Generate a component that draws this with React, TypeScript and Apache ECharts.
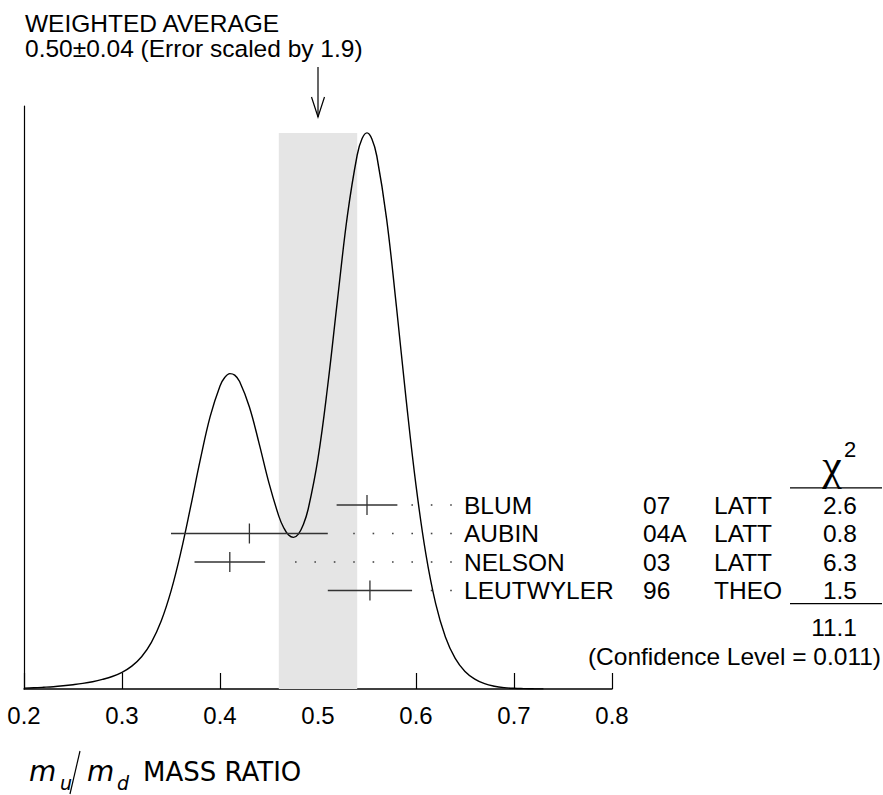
import React, { useEffect, useRef } from 'react';
import * as echarts from 'echarts';

// ---- Data ----
const curveX = [
  0.2, 0.21, 0.22, 0.23, 0.24, 0.25, 0.26, 0.27, 0.28, 0.29,
  0.3, 0.31, 0.32, 0.33, 0.34, 0.35, 0.36, 0.37, 0.38, 0.39,
  0.4, 0.405, 0.41, 0.415, 0.42, 0.43, 0.44, 0.45, 0.46, 0.465, 0.47, 0.475, 0.48, 0.485, 0.49,
  0.5, 0.51, 0.52, 0.53, 0.54, 0.545, 0.55, 0.555, 0.56, 0.57, 0.58, 0.59,
  0.6, 0.61, 0.62, 0.63, 0.64, 0.65, 0.66, 0.67, 0.68, 0.69,
  0.7, 0.71, 0.72, 0.73,
];
const curveY = [
  0.9, 1.2, 1.7, 2.3, 3.2, 4.3, 5.6, 7.3, 9.6, 12.5,
  16.7, 22.9, 32.3, 46.7, 68.0, 97.9, 136.6, 182.1, 229.8, 272.6,
  303.1, 311.7, 315.4, 313.9, 307.5, 282.0, 245.2, 205.9, 172.9, 161.3, 153.9, 151.6, 154.9, 164.3, 180.0,
  230.7, 304.0, 390.2, 473.3, 534.0, 550.5, 556.1, 550.1, 533.0, 470.1, 382.7, 288.9,
  203.6, 135.3, 85.6, 52.1, 30.7, 17.6, 9.9, 5.3, 2.8, 1.4,
  0.7, 0.4, 0.2, 0.1,
];

const names = ['BLUM', 'AUBIN', 'NELSON', 'LEUTWYLER'];
const years = ['07', '04A', '03', '96'];
const methods = ['LATT', 'LATT', 'LATT', 'THEO'];
const values = [0.55, 0.43, 0.41, 0.553];
const errors = [0.031, 0.08, 0.036, 0.043];
const chi2 = ['2.6', '0.8', '6.3', '1.5'];
const chi2Total = '11.1';
const confidenceLevel = '0.011';

const avgValue = 0.5;
const avgError = 0.04;
const errorScale = 1.9;

const xMin = 0.2;
const xMax = 0.8;
const xStep = 0.1;

// ---- Layout ----
const FONT = '"Liberation Sans", Arial, Helvetica, sans-serif';
const GRID_LEFT = 24;
const GRID_TOP = 106;
const GRID_W = 588;
const GRID_H = 583;
const ROW_GAP = 28.5;
const FIRST_ROW_OFFSET = 14; // rows start 14 row-gaps below the grid top
const LABEL_X = 464;
const YEAR_X = 643;
const METHOD_X = 714;
const CHI_RIGHT = 857;
const TABLE_LINE_X1 = 790;
const TABLE_LINE_X2 = 882;
const DOT_GAP = 19.4;
const TXT = 24.5;
const TITLE_TXT = 24.5;

function txt(x: number, y: number, text: string, align: string, size = TXT, family = FONT, extra: any = {}) {
  return {
    type: 'text',
    x,
    y,
    style: {
      text,
      fill: '#000',
      fontSize: size,
      fontFamily: family,
      align,
      verticalAlign: 'middle',
      ...extra,
    },
  };
}

export default function App() {
  const ref = useRef<HTMLDivElement>(null);

  useEffect(() => {
    const chart = echarts.init(ref.current as HTMLDivElement, null, { renderer: 'svg' });
    const bandTop = Math.max(...curveY);
    const rowMin = -FIRST_ROW_OFFSET;
    const rowMax = GRID_H / ROW_GAP - FIRST_ROW_OFFSET;
    const sub = '"DejaVu Sans", sans-serif';

    const option: any = {
      animation: false,
      backgroundColor: '#fff',
      grid: { left: GRID_LEFT, top: GRID_TOP, width: GRID_W, height: GRID_H, containLabel: false },
      xAxis: {
        type: 'value',
        min: xMin,
        max: xMax,
        interval: xStep,
        axisLine: { onZero: false, lineStyle: { color: '#000', width: 1.5 } },
        axisTick: { inside: true, length: 16, lineStyle: { color: '#000', width: 1.2 } },
        axisLabel: {
          color: '#000',
          fontSize: 24,
          fontFamily: FONT,
          margin: 14,
          showMinLabel: true,
          showMaxLabel: true,
          formatter: (v: number) => v.toFixed(1),
        },
        splitLine: { show: false },
      },
      yAxis: [
        {
          type: 'value',
          min: 0,
          max: GRID_H,
          axisLine: { show: true, onZero: false, lineStyle: { color: '#000', width: 1.2 } },
          axisTick: { show: false },
          axisLabel: { show: false },
          splitLine: { show: false },
        },
        {
          type: 'value',
          min: rowMin,
          max: rowMax,
          inverse: true,
          show: false,
          splitLine: { show: false },
        },
      ],
      graphic: [
        {
          type: 'text',
          left: 25,
          top: 11,
          style: { text: 'WEIGHTED AVERAGE', fill: '#000', fontSize: TITLE_TXT, fontFamily: FONT },
        },
        {
          type: 'text',
          left: 25,
          top: 36,
          style: {
            text: `${avgValue.toFixed(2)}\u00b1${avgError.toFixed(2)} (Error scaled by ${errorScale})`,
            fill: '#000',
            fontSize: TITLE_TXT,
            fontFamily: FONT,
          },
        },
        // x-axis title: m_u / m_d MASS RATIO
        { type: 'text', x: 29, y: 771, style: { text: 'm', fontSize: 28, fontStyle: 'italic', fontFamily: sub, fill: '#000', verticalAlign: 'middle' } },
        { type: 'text', x: 60, y: 783, style: { text: 'u', fontSize: 19, fontStyle: 'italic', fontFamily: sub, fill: '#000', verticalAlign: 'middle' } },
        { type: 'line', shape: { x1: 80, y1: 751, x2: 70, y2: 794 }, style: { stroke: '#000', lineWidth: 1.2 } },
        { type: 'text', x: 87, y: 771, style: { text: 'm', fontSize: 28, fontStyle: 'italic', fontFamily: sub, fill: '#000', verticalAlign: 'middle' } },
        { type: 'text', x: 117, y: 783, style: { text: 'd', fontSize: 19, fontStyle: 'italic', fontFamily: sub, fill: '#000', verticalAlign: 'middle' } },
        { type: 'text', x: 143, y: 772, style: { text: 'MASS RATIO', fontSize: 26, fontFamily: sub, fill: '#000', verticalAlign: 'middle' } },
      ],
      series: [
        // weighted average band + arrow
        {
          type: 'custom',
          z: 1,
          clip: false,
          xAxisIndex: 0,
          yAxisIndex: 0,
          data: [[avgValue, avgError, bandTop]],
          renderItem: (_p: any, api: any) => {
            const v = api.value(0);
            const e = api.value(1);
            const top = api.value(2);
            const a = api.coord([v - e, top]);
            const b = api.coord([v + e, 0]);
            const cx = api.coord([v, 0])[0];
            return {
              type: 'group',
              children: [
                {
                  type: 'rect',
                  shape: { x: a[0], y: a[1], width: b[0] - a[0], height: b[1] - a[1] },
                  style: { fill: '#e5e5e5' },
                },
                { type: 'line', shape: { x1: cx, y1: 67, x2: cx, y2: 117 }, style: { stroke: '#000', lineWidth: 1.2 } },
                {
                  type: 'polyline',
                  shape: { points: [[cx - 6.5, 97], [cx, 117], [cx + 6.5, 97]] },
                  style: { stroke: '#000', lineWidth: 1.2, fill: 'none' },
                },
              ],
            };
          },
        },
        // ideogram curve
        {
          type: 'line',
          z: 2,
          xAxisIndex: 0,
          yAxisIndex: 0,
          data: curveX.map((x, i) => [x, curveY[i]]),
          smooth: 0.4,
          showSymbol: false,
          symbol: 'none',
          lineStyle: { color: '#000', width: 1.4 },
        },
        // measurements with error bars, dots and table text
        {
          type: 'custom',
          z: 3,
          clip: false,
          xAxisIndex: 0,
          yAxisIndex: 1,
          data: names.map((_n, i) => [i, values[i], errors[i]]),
          renderItem: (params: any, api: any) => {
            const i = api.value(0);
            const v = api.value(1);
            const e = api.value(2);
            const idx = params.dataIndex;
            const [cx, cy] = api.coord([v, i]);
            const lo = api.coord([v - e, i])[0];
            const hi = api.coord([v + e, i])[0];
            const children: any[] = [
              { type: 'line', shape: { x1: lo, y1: cy, x2: hi, y2: cy }, style: { stroke: '#333', lineWidth: 1.3 } },
              { type: 'line', shape: { x1: cx, y1: cy - 10, x2: cx, y2: cy + 10 }, style: { stroke: '#333', lineWidth: 1.3 } },
            ];
            for (let x = LABEL_X - 13; x > hi + 12; x -= DOT_GAP) {
              children.push({
                type: 'rect',
                shape: { x: x - 0.8, y: cy - 0.8, width: 1.6, height: 1.6 },
                style: { fill: '#444' },
              });
            }
            children.push(txt(LABEL_X, cy, names[idx], 'left'));
            children.push(txt(YEAR_X, cy, years[idx], 'left'));
            children.push(txt(METHOD_X, cy, methods[idx], 'left'));
            children.push(txt(CHI_RIGHT, cy, chi2[idx], 'right'));
            return { type: 'group', children };
          },
        },
        // chi-square header / footer
        {
          type: 'custom',
          z: 3,
          clip: false,
          xAxisIndex: 0,
          yAxisIndex: 1,
          data: [[0]],
          renderItem: (_p: any, api: any) => {
            const rowY = (k: number) => api.coord([avgValue, k])[1];
            return {
              type: 'group',
              children: [
                txt(832, rowY(-1.38), '\u03c7', 'center', 44, '"Liberation Serif", "DejaVu Serif", serif'),
                txt(844, rowY(-1.95), '2', 'left', 22),
                {
                  type: 'line',
                  shape: { x1: TABLE_LINE_X1, y1: rowY(-0.6), x2: TABLE_LINE_X2, y2: rowY(-0.6) },
                  style: { stroke: '#000', lineWidth: 1.2 },
                },
                {
                  type: 'line',
                  shape: { x1: TABLE_LINE_X1, y1: rowY(3.46), x2: TABLE_LINE_X2, y2: rowY(3.46) },
                  style: { stroke: '#000', lineWidth: 1.2 },
                },
                txt(CHI_RIGHT, rowY(4.3), chi2Total, 'right'),
                txt(881, rowY(5.3), `(Confidence Level = ${confidenceLevel})`, 'right'),
              ],
            };
          },
        },
      ],
    };

    chart.setOption(option);
    return () => {
      chart.dispose();
    };
  }, []);

  return (
    <div
      ref={ref}
      style={{ position: 'absolute', left: 0, top: 0, width: 883, height: 795, background: '#fff' }}
    />
  );
}
